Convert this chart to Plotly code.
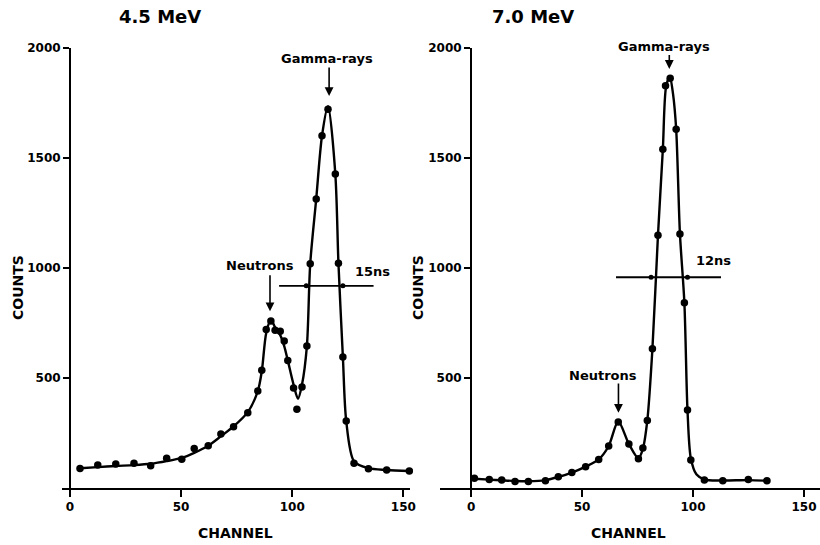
import plotly.graph_objects as go

# ---------------- data ----------------
# 4.5 MeV panel: measured points
left_ch = [4.5, 12.5, 20.6, 28.8, 36.3, 43.5, 50.3, 55.9, 62.2, 67.9, 73.6, 80.0,
           84.5, 86.3, 88.3, 90.4, 92.3, 94.6, 96.4, 98.0, 100.6, 102.1, 104.4,
           106.6, 108.1, 110.8, 113.4, 116.1, 119.4, 120.8, 122.8, 124.3, 127.8,
           134.3, 142.5, 152.7]
left_counts = [89, 104, 109, 112, 101, 135, 131, 180, 192, 245, 278, 342,
               441, 535, 721, 759, 717, 712, 668, 580, 455, 358, 459,
               645, 1019, 1314, 1601, 1722, 1427, 1022, 595, 305, 112,
               87, 82, 77]
# 4.5 MeV panel: drawn smooth curve
left_fit_ch = [4.5, 12.5, 20.6, 28.8, 36.3, 43.5, 50.3, 55.9, 62.2, 67.9, 73.6, 80.0,
               84.5, 86.3, 88.3, 90.4, 92.3, 94.6, 96.4, 98.0, 100.6, 102.6, 104.4,
               106.6, 108.1, 110.8, 113.4, 116.1, 119.4, 120.8, 122.8, 124.3, 127.8,
               134.3, 142.5, 152.7]
left_fit_counts = [90, 95, 100, 104, 110, 122, 137, 160, 192, 235, 280, 345,
                   440, 530, 705, 765, 730, 695, 645, 580, 470, 405, 470,
                   645, 1019, 1314, 1601, 1735, 1427, 1022, 595, 305, 122,
                   90, 82, 77]
left_fwhm_ch = [94.1, 136.6]
left_fwhm_counts = [919, 919]
left_fwhm_marks = [106.3, 122.8]

# 7.0 MeV panel: measured points
right_ch = [1.5, 8.2, 13.8, 19.8, 25.8, 33.5, 39.3, 45.4, 51.6, 57.5, 62.0,
            66.3, 71.1, 75.4, 77.4, 79.4, 81.7, 84.2, 86.4, 87.6, 89.7, 92.4,
            94.1, 96.1, 97.5, 99.0, 105.1, 113.4, 124.9, 133.3]
right_counts = [44, 39, 36, 29, 29, 33, 51, 70, 97, 130, 191,
                300, 200, 133, 182, 307, 633, 1149, 1540, 1828, 1862, 1631,
                1155, 842, 354, 127, 36, 33, 39, 33]
# 7.0 MeV panel: drawn smooth curve
right_fit_ch = [1.5, 8.2, 13.8, 19.8, 25.8, 33.5, 39.3, 45.4, 51.6, 57.5, 62.0,
                66.3, 71.1, 75.4, 77.4, 79.4, 81.7, 84.2, 86.4, 87.8, 89.5, 91.0, 92.4,
                94.1, 96.1, 97.5, 99.0, 101.5, 105.1, 113.4, 124.9, 133.3]
right_fit_counts = [42, 38, 35, 32, 31, 36, 50, 70, 97, 130, 191,
                    302, 200, 135, 178, 307, 633, 1149, 1540, 1820, 1872, 1790, 1631,
                    1155, 842, 354, 135, 62, 38, 34, 36, 33]
right_fwhm_ch = [65.3, 112.6]
right_fwhm_counts = [958, 958]
right_fwhm_marks = [81.1, 97.5]

x_ticks = [0, 50, 100, 150]
y_ticks = [500, 1000, 1500, 2000]

# ---------------- figure ----------------
FONT = "DejaVu Sans"
W, H = 820, 545
BLACK = "black"

fig = go.Figure()


def add_panel(xa, ya, fx, fy, px, py, wx, wy, wm):
    fig.add_trace(go.Scatter(x=fx, y=fy, xaxis=xa, yaxis=ya, mode="lines",
                             line=dict(color=BLACK, width=2.4, shape="spline", smoothing=0.8),
                             showlegend=False, hoverinfo="skip", cliponaxis=False))
    fig.add_trace(go.Scatter(x=px, y=py, xaxis=xa, yaxis=ya, mode="markers",
                             marker=dict(color=BLACK, size=7.5),
                             showlegend=False, cliponaxis=False))
    fig.add_trace(go.Scatter(x=wx, y=wy, xaxis=xa, yaxis=ya, mode="lines",
                             line=dict(color=BLACK, width=1.8),
                             showlegend=False, hoverinfo="skip", cliponaxis=False))
    fig.add_trace(go.Scatter(x=wm, y=[wy[0]] * len(wm), xaxis=xa, yaxis=ya, mode="markers",
                             marker=dict(color=BLACK, size=5),
                             showlegend=False, hoverinfo="skip", cliponaxis=False))


add_panel("x", "y", left_fit_ch, left_fit_counts, left_ch, left_counts,
          left_fwhm_ch, left_fwhm_counts, left_fwhm_marks)
add_panel("x2", "y2", right_fit_ch, right_fit_counts, right_ch, right_counts,
          right_fwhm_ch, right_fwhm_counts, right_fwhm_marks)

tickfont = dict(family=FONT, size=12, color=BLACK, weight="bold")
ydom = [1 - 488 / H, 1 - 48 / H]

xcommon = dict(showline=True, linecolor=BLACK, linewidth=2, ticks="outside",
               ticklen=7, tickwidth=2, tickcolor=BLACK, tickvals=x_ticks,
               showgrid=False, zeroline=False, tickfont=tickfont, automargin=False)
ycommon = dict(showline=True, linecolor=BLACK, linewidth=2, ticks="outside",
               ticklen=6, tickwidth=1.5, tickcolor=BLACK, tickvals=y_ticks,
               range=[0, 2000], domain=ydom, showgrid=False, zeroline=False,
               tickfont=tickfont, automargin=False, anchor="free")

fig.update_layout(
    width=W, height=H,
    margin=dict(l=0, r=0, t=0, b=0),
    paper_bgcolor="white", plot_bgcolor="white",
    xaxis=dict(domain=[62 / W, 410 / W], range=[-3.6, 153.0], anchor="y", **xcommon),
    yaxis=dict(position=70 / W, **ycommon),
    xaxis2=dict(domain=[440 / W, 1.0], range=[-14.0, 157.2], anchor="y2", **xcommon),
    yaxis2=dict(position=471 / W, **ycommon),
)

ann = []


def text_ann(xr, yr, x, y, t, size=13, angle=0, yshift=0):
    ann.append(dict(xref=xr, yref=yr, x=x, y=y, text=t, showarrow=False,
                    xanchor="center", yanchor="middle", textangle=angle, yshift=yshift,
                    font=dict(family=FONT, size=size, color=BLACK, weight="bold")))


def arrow_ann(xr, yr, x, tail, tip):
    ann.append(dict(xref=xr, yref=yr, axref=xr, ayref=yr, x=x, y=tip, ax=x, ay=tail,
                    text="", showarrow=True, arrowhead=2, arrowsize=1.1,
                    arrowwidth=1.6, arrowcolor=BLACK, standoff=0, startstandoff=0))


# panel titles and axis titles
text_ann("paper", "paper", 160 / W, 1 - 17 / H, "4.5 MeV", size=18)
text_ann("paper", "paper", 533 / W, 1 - 17 / H, "7.0 MeV", size=18)
text_ann("paper", "paper", 236 / W, 1 - 533 / H, "CHANNEL", size=14)
text_ann("paper", "paper", 628 / W, 1 - 533 / H, "CHANNEL", size=14)
text_ann("paper", "paper", 18 / W, 1 - 288 / H, "COUNTS", size=14, angle=-90)
text_ann("paper", "paper", 418 / W, 1 - 288 / H, "COUNTS", size=14, angle=-90)

# left panel labels
text_ann("x", "y", 115.5, 1954, "Gamma-rays")
arrow_ann("x", "y", 116.6, 1918, 1782)
text_ann("x", "y", 85.5, 1011, "Neutrons")
arrow_ann("x", "y", 90.0, 974, 803)
text_ann("x", "y", 136.0, 985, "15ns")

# right panel labels (text sits just at the top of the axis range)
text_ann("x2", "y2", 86.8, 1999, "Gamma-rays", yshift=2)
arrow_ann("x2", "y2", 89.3, 1975, 1905)
text_ann("x2", "y2", 59.3, 512, "Neutrons")
arrow_ann("x2", "y2", 66.4, 482, 342)
text_ann("x2", "y2", 109.3, 1033, "12ns")

fig.update_layout(annotations=ann)

fig.write_html("out.html")
